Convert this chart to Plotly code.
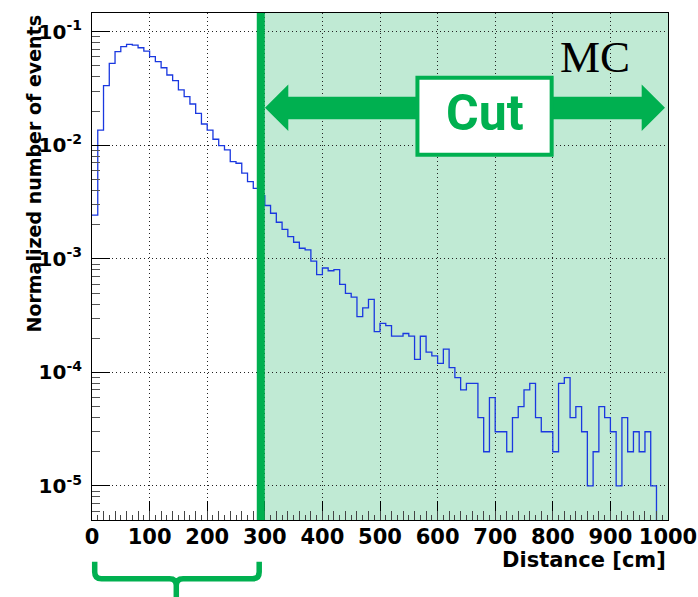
import numpy as np
import plotly.graph_objects as go

# ---------------- data ----------------
bin_width = 10          # cm
bin_start = 0           # cm
values = [
    0.00243, 0.0136, 0.0335, 0.0527, 0.0667, 0.0738, 0.0774, 0.0763, 0.0723, 0.0676,
    0.0603, 0.0545, 0.0482, 0.0416, 0.0371, 0.0307, 0.0268, 0.0231, 0.0191, 0.0154,
    0.0136, 0.0113, 0.00993, 0.0091, 0.00718, 0.00695, 0.00568, 0.00479, 0.00418, 0.00360,
    0.00295, 0.00252, 0.00210, 0.00182, 0.00157, 0.00140, 0.00124, 0.00120, 0.000955, 0.000725,
    0.000830, 0.000785, 0.000805, 0.000595, 0.000497, 0.000460, 0.000310, 0.000370, 0.000440, 0.000229,
    0.000270, 0.000258, 0.000209, 0.000209, 0.000220, 0.000209, 0.000130, 0.000208, 0.000151, 0.000140,
    0.000120, 0.000160, 0.000110, 0.000090, 0.000070, 0.000080, 0.000080, 0.000040, 0.000020, 0.000060,
    0.000030, 0.000030, 0.000020, 0.000040, 0.000050, 0.000070, 0.000080, 0.000040, 0.000030, 0.000030,
    0.000020, 0.000080, 0.000090, 0.000040, 0.000050, 0.000030, 0.000010, 0.000020, 0.000050, 0.000040,
    0.000030, 0.000010, 0.000040, 0.000020, 0.000030, 0.000020, 0.000030, 0.000010, 0.0, 0.0,
]
cut_cm = 293
x_tick_vals = [0, 100, 200, 300, 400, 500, 600, 700, 800, 900, 1000]
x_tick_text = ["0", "100", "200", "300", "400", "500", "600", "700", "800", "900", "1000"]
y_tick_vals = [1e-5, 1e-4, 1e-3, 1e-2, 1e-1]
y_tick_text = ["10<sup>-5</sup>", "10<sup>-4</sup>", "10<sup>-3</sup>", "10<sup>-2</sup>", "10<sup>-1</sup>"]
x_title = "Distance [cm]"
y_title = "Normalized number of events"
label_mc = "MC"
label_cut = "Cut"

# ---------------- styles ----------------
GREEN = "#00b050"
SHADE = "#c0ead4"
BLUE = "#1a38e0"
FONT = "DejaVu Sans"

edges = bin_start + bin_width * np.arange(len(values) + 1)
vals = np.array(values, dtype=float)
plot_vals = np.where(vals > 0, vals, 1e-9)
y_step = np.append(plot_vals, plot_vals[-1])

fig = go.Figure()
fig.add_trace(go.Scatter(
    x=edges, y=y_step, mode="lines",
    line=dict(shape="hv", color=BLUE, width=1.3),
    hoverinfo="skip", showlegend=False,
))
# dummy trace for secondary tick axis
fig.add_trace(go.Scatter(x=[None], y=[None], xaxis="x2", showlegend=False, hoverinfo="skip"))

y_minor = [k * 10.0 ** e for e in range(-6, 0) for k in range(2, 10)]
y_minor = [v for v in y_minor if 5e-6 < v < 0.146]

fig.update_layout(
    width=698, height=597,
    margin=dict(l=92, r=30, t=13, b=77, autoexpand=False),
    plot_bgcolor="white", paper_bgcolor="white",
    xaxis=dict(
        range=[0, 1000], showline=True, mirror=True, linecolor="black", linewidth=1,
        automargin=False,
        ticks="inside", ticklen=19, tickcolor="black", tickwidth=1,
        tickvals=x_tick_vals, ticktext=x_tick_text,
        tickfont=dict(family=FONT, size=21, color="black", weight="bold"),
        ticklabelstandoff=-2,
        showgrid=True, gridcolor="#222", griddash="1px,3px", gridwidth=1,
        zeroline=False,
        minor=dict(tickvals=list(range(10, 1000, 10)), ticks="inside", ticklen=5,
                   tickcolor="#444", showgrid=False),
    ),
    xaxis2=dict(
        range=[0, 1000], overlaying="x", anchor="y", side="bottom", automargin=False,
        showgrid=False, showticklabels=False, showline=False, zeroline=False,
        ticks="inside", ticklen=9, tickcolor="#444",
        tickvals=list(range(20, 1000, 20)),
    ),
    yaxis=dict(
        type="log", range=[-5.3, -0.835], showline=True, mirror=True,
        linecolor="black", linewidth=1, automargin=False,
        ticks="inside", ticklen=18, tickcolor="black",
        tickvals=y_tick_vals, ticktext=y_tick_text,
        tickfont=dict(family=FONT, size=20, color="black", weight="bold"),
        ticklabelstandoff=5,
        showgrid=True, gridcolor="#222", griddash="1px,3px", gridwidth=1,
        zeroline=False,
        minor=dict(tickvals=y_minor, ticks="inside", ticklen=8, tickcolor="#555", showgrid=False),
    ),
)

def py(p):
    """pixel row -> paper y"""
    return (520 - p) / 507.0

def px(p):
    return (p - 92) / 576.0

shapes = []
# shaded cut region
shapes.append(dict(type="rect", xref="x", yref="paper", x0=cut_cm, x1=1000, y0=0, y1=1,
                   fillcolor=SHADE, line=dict(width=0), layer="below"))
# cut line
shapes.append(dict(type="line", xref="x", yref="paper", x0=cut_cm, x1=cut_cm, y0=0, y1=1,
                   line=dict(color=GREEN, width=8), layer="above"))
# double arrow (x in cm, y in paper)
xl, xlh, xrh, xr = 300.3, 340.8, 954.3, 994.8
yc, ys1, ys2, yh1, yh2 = py(107.8), py(96.7), py(119.3), py(84.5), py(131.0)
arrow = (f"M {xl},{yc} L {xlh},{yh1} L {xlh},{ys1} L {xrh},{ys1} L {xrh},{yh1} "
         f"L {xr},{yc} L {xrh},{yh2} L {xrh},{ys2} L {xlh},{ys2} L {xlh},{yh2} Z")
shapes.append(dict(type="path", xref="x", yref="paper", path=arrow,
                   fillcolor=GREEN, line=dict(width=0), layer="above"))
# Cut box
shapes.append(dict(type="rect", xref="x", yref="paper", x0=565, x1=798,
                   y0=py(154.7), y1=py(77.7), fillcolor="white",
                   line=dict(color=GREEN, width=4), layer="above"))
# bracket below axis (paper coords)
bl, bm, br = px(94.7), px(176.3), px(259.2)
yt, yh, yb = py(561.7), py(578.8), py(600)
r = 6.8
bracket = (f"M {bl},{yt} L {bl},{py(578.8 - r)} Q {bl},{yh} {px(94.7 + r)},{yh} "
           f"L {px(176.3 - r)},{yh} Q {bm},{yh} {bm},{py(578.8 + r)} L {bm},{yb} "
           f"M {bm},{py(578.8 + r)} Q {bm},{yh} {px(176.3 + r)},{yh} "
           f"L {px(259.2 - r)},{yh} Q {br},{yh} {br},{py(578.8 - r)} L {br},{yt}")
shapes.append(dict(type="path", xref="paper", yref="paper", path=bracket,
                   line=dict(color=GREEN, width=5.5), layer="above"))
fig.update_layout(shapes=shapes)

fig.add_annotation(text=label_cut, xref="x", yref="paper", x=681.5, y=py(113),
                   showarrow=False, xanchor="center", yanchor="middle",
                   font=dict(family="Roboto", size=50, color=GREEN, weight="bold"))
fig.add_annotation(text=label_mc, xref="x", yref="paper", x=873, y=py(57),
                   showarrow=False, xanchor="center", yanchor="middle",
                   font=dict(family="Liberation Serif", size=45, color="black"))
fig.add_annotation(text=y_title, xref="paper", yref="paper", x=px(33), y=py(14),
                   textangle=-90, showarrow=False, xanchor="center", yanchor="top",
                   font=dict(family=FONT, size=19, color="black", weight="bold"))
fig.add_annotation(text=x_title, xref="paper", yref="paper", x=px(668), y=py(560),
                   showarrow=False, xanchor="right", yanchor="middle",
                   font=dict(family=FONT, size=21, color="black", weight="bold"))

fig.write_html("out.html")
